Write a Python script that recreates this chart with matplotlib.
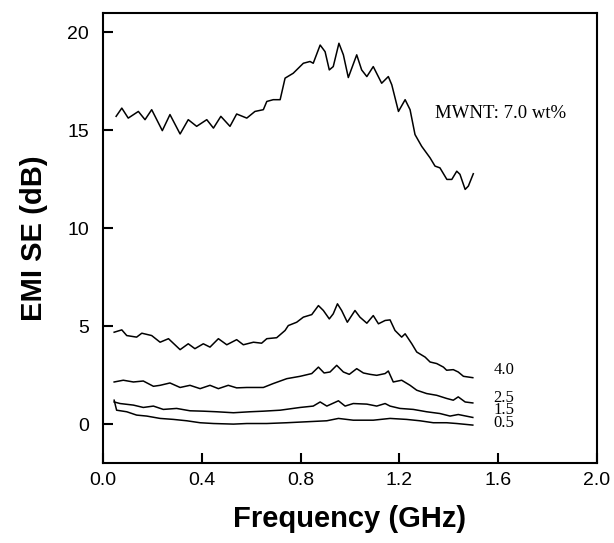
import numpy as np
import matplotlib.pyplot as plt

# MWNT 7.0 wt%
f70 = [0.053, 0.076, 0.102, 0.143, 0.170, 0.197, 0.240, 0.271, 0.312, 0.345, 0.379, 0.420,
       0.447, 0.477, 0.514, 0.541, 0.582, 0.615, 0.649, 0.663, 0.689, 0.717, 0.737, 0.770,
       0.811, 0.838, 0.851, 0.879, 0.899, 0.916, 0.932, 0.955, 0.973, 0.993, 1.027, 1.047,
       1.068, 1.094, 1.128, 1.155, 1.169, 1.196, 1.223, 1.243, 1.263, 1.290, 1.324, 1.344,
       1.364, 1.392, 1.412, 1.432, 1.445, 1.466, 1.479, 1.499]
se70 = [15.71, 16.13, 15.62, 15.96, 15.54, 16.05, 14.98, 15.80, 14.81, 15.54, 15.20, 15.54,
        15.11, 15.71, 15.20, 15.83, 15.62, 15.96, 16.05, 16.47, 16.56, 16.56, 17.66, 17.91,
        18.42, 18.51, 18.42, 19.35, 19.01, 18.08, 18.25, 19.44, 18.85, 17.69, 18.85, 18.08,
        17.74, 18.25, 17.40, 17.74, 17.32, 15.96, 16.56, 16.05, 14.78, 14.18, 13.59, 13.17,
        13.08, 12.49, 12.49, 12.91, 12.75, 11.98, 12.15, 12.78]

# 4.0 wt%
f40 = [0.045, 0.076, 0.096, 0.136, 0.157, 0.197, 0.231, 0.265, 0.312, 0.345, 0.372, 0.406,
       0.433, 0.467, 0.501, 0.541, 0.568, 0.609, 0.642, 0.663, 0.703, 0.737, 0.750, 0.784,
       0.811, 0.845, 0.872, 0.892, 0.916, 0.932, 0.949, 0.966, 0.989, 1.020, 1.040, 1.068,
       1.094, 1.115, 1.142, 1.162, 1.182, 1.209, 1.223, 1.250, 1.270, 1.304, 1.324, 1.351,
       1.378, 1.391, 1.418, 1.438, 1.459, 1.497]
se40 = [4.69, 4.81, 4.52, 4.44, 4.64, 4.52, 4.18, 4.36, 3.80, 4.10, 3.85, 4.10,
        3.93, 4.36, 4.05, 4.31, 4.05, 4.18, 4.13, 4.36, 4.41, 4.78, 5.03, 5.20,
        5.46, 5.59, 6.05, 5.80, 5.37, 5.63, 6.14, 5.80, 5.20, 5.80, 5.46, 5.15,
        5.54, 5.12, 5.29, 5.32, 4.78, 4.44, 4.61, 4.10, 3.68, 3.42, 3.17, 3.09,
        2.91, 2.75, 2.78, 2.66, 2.44, 2.37]

# 2.5 wt%
f25 = [0.045, 0.082, 0.123, 0.163, 0.204, 0.231, 0.271, 0.312, 0.352, 0.393, 0.433, 0.467,
       0.507, 0.541, 0.582, 0.622, 0.649, 0.689, 0.744, 0.798, 0.845, 0.872, 0.895, 0.919,
       0.946, 0.973, 0.997, 1.027, 1.054, 1.081, 1.108, 1.142, 1.155, 1.175, 1.209, 1.243,
       1.270, 1.310, 1.351, 1.391, 1.418, 1.438, 1.466, 1.497]
se25 = [2.15, 2.24, 2.15, 2.20, 1.93, 1.98, 2.10, 1.87, 1.98, 1.81, 1.98, 1.81,
        1.98, 1.85, 1.87, 1.87, 1.87, 2.07, 2.32, 2.44, 2.58, 2.91, 2.61, 2.66,
        3.00, 2.66, 2.54, 2.83, 2.61, 2.54, 2.49, 2.58, 2.71, 2.15, 2.24, 1.98,
        1.73, 1.56, 1.47, 1.31, 1.22, 1.39, 1.13, 1.08]

# 1.5 wt%
f15 = [0.045, 0.069, 0.123, 0.163, 0.204, 0.244, 0.298, 0.352, 0.406, 0.460, 0.528, 0.595,
       0.649, 0.717, 0.798, 0.851, 0.879, 0.906, 0.953, 0.980, 1.013, 1.068, 1.108, 1.142,
       1.162, 1.202, 1.256, 1.310, 1.364, 1.405, 1.438, 1.497]
se15 = [1.13, 1.05, 0.97, 0.85, 0.92, 0.75, 0.80, 0.68, 0.66, 0.63, 0.58, 0.63,
        0.66, 0.71, 0.85, 0.92, 1.13, 0.92, 1.19, 0.92, 1.05, 1.02, 0.92, 1.05,
        0.92, 0.80, 0.75, 0.63, 0.54, 0.41, 0.49, 0.34]

# 0.5 wt%
f05 = [0.045, 0.055, 0.096, 0.136, 0.177, 0.231, 0.285, 0.339, 0.393, 0.447, 0.528, 0.582,
       0.663, 0.744, 0.825, 0.906, 0.953, 1.013, 1.094, 1.162, 1.229, 1.283, 1.337, 1.391,
       1.432, 1.497]
se05 = [1.22, 0.71, 0.63, 0.46, 0.41, 0.29, 0.24, 0.17, 0.07, 0.03, 0.00, 0.03,
        0.03, 0.07, 0.12, 0.17, 0.29, 0.20, 0.20, 0.29, 0.24, 0.17, 0.07, 0.07,
        0.03, -0.05]

top_label = "4.0"
low_labels = ["2.5", "1.5", "0.5"]

fig = plt.figure(figsize=(6.14, 5.43), dpi=100)
ax = fig.add_axes([0.1678, 0.1468, 0.8046, 0.8298])

for f, se in [(f70, se70), (f40, se40), (f25, se25), (f15, se15), (f05, se05)]:
    ax.plot(f, se, color="black", lw=1.1)

ax.text(1.344, 15.88, "MWNT: 7.0 wt%", family="Liberation Serif", fontsize=13.5, va="center")
ax.text(1.58, 2.75, top_label, family="Liberation Serif", fontsize=12, va="center")
# the three lower labels are stacked tightly, as one block
ax.text(1.58, 0.70, "\n".join(low_labels), family="Liberation Serif", fontsize=12,
        va="center", linespacing=0.68)

ax.set_xlim(0, 2.0)
ax.set_ylim(-2, 21)
ax.set_xticks([0.0, 0.4, 0.8, 1.2, 1.6, 2.0])
ax.set_xticklabels(["0.0", "0.4", "0.8", "1.2", "1.6", "2.0"])
ax.set_yticks([0, 5, 10, 15, 20])
ax.tick_params(direction="in", length=7, width=1.5, labelsize=14, top=False, right=False)
ax.tick_params(axis="x", pad=6)
ax.tick_params(axis="y", pad=10)
for lbl in ax.get_xticklabels() + ax.get_yticklabels():
    lbl.set_family("Liberation Sans")
for s in ax.spines.values():
    s.set_linewidth(1.5)

ax.set_xlabel("Frequency (GHz)", family="Liberation Sans", fontsize=21, fontweight="bold")
ax.set_ylabel("EMI SE (dB)", family="Liberation Sans", fontsize=21, fontweight="bold")
ax.xaxis.set_label_coords(0.5, -0.092)
ax.yaxis.set_label_coords(-0.112, 0.5)

fig.savefig("out.png", dpi=100)
